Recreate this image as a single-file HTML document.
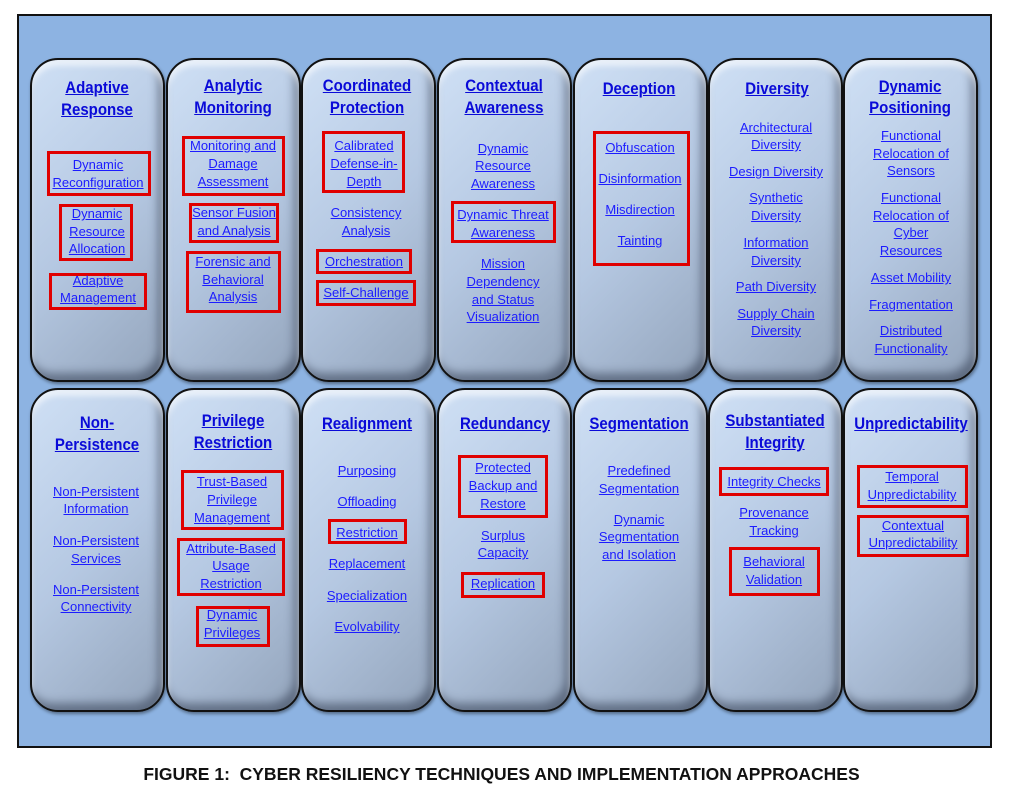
<!DOCTYPE html>
<html><head><meta charset="utf-8"><style>
body{margin:0;width:1023px;height:805px;background:#fff;position:relative;overflow:hidden;font-family:"Liberation Sans",sans-serif}
#f{position:absolute;left:17px;top:14px;width:971px;height:730px;background:#8db3e2;border:2px solid #111;box-sizing:content-box}
.c{position:absolute;width:131px;border:2px solid #111;border-radius:28px;background:linear-gradient(135deg,#cfe0f5 0%,#b5c8e2 50%,#93a4bb 100%);box-shadow:inset 0 6px 6px rgba(255,255,255,.6),inset -5px -7px 9px rgba(40,50,70,.5),1px 2px 3px rgba(0,0,0,.4)}
.t{position:absolute;transform:translateX(-50%);white-space:nowrap;color:#1c1cff;text-decoration:underline;font-size:13px;line-height:16px}
.h{position:absolute;transform:translateX(-50%) scaleX(0.91);white-space:nowrap;color:#0a0ad8;text-decoration:underline;font-size:16.5px;font-weight:bold;line-height:20px}
.r{position:absolute;border:3px solid #e00000;box-sizing:border-box}
#cap{position:absolute;left:0;width:1003px;top:764px;text-align:center;font-weight:bold;font-size:17.5px;color:#111}
</style></head><body>
<div id="f"></div>
<div class="c" style="left:30px;top:58px;height:320px"></div>
<div class="c" style="left:166px;top:58px;height:320px"></div>
<div class="c" style="left:301px;top:58px;height:320px"></div>
<div class="c" style="left:437px;top:58px;height:320px"></div>
<div class="c" style="left:573px;top:58px;height:320px"></div>
<div class="c" style="left:708px;top:58px;height:320px"></div>
<div class="c" style="left:843px;top:58px;height:320px"></div>
<div class="c" style="left:30px;top:388px;height:320px"></div>
<div class="c" style="left:166px;top:388px;height:320px"></div>
<div class="c" style="left:301px;top:388px;height:320px"></div>
<div class="c" style="left:437px;top:388px;height:320px"></div>
<div class="c" style="left:573px;top:388px;height:320px"></div>
<div class="c" style="left:708px;top:388px;height:320px"></div>
<div class="c" style="left:843px;top:388px;height:320px"></div>

<div class="r" style="left:47px;top:151px;width:104px;height:45px"></div>
<div class="r" style="left:59px;top:204px;width:74px;height:57px"></div>
<div class="r" style="left:49px;top:273px;width:98px;height:37px"></div>
<div class="r" style="left:182px;top:136px;width:103px;height:60px"></div>
<div class="r" style="left:189px;top:203px;width:90px;height:40px"></div>
<div class="r" style="left:186px;top:251px;width:95px;height:62px"></div>
<div class="r" style="left:322px;top:131px;width:83px;height:62px"></div>
<div class="r" style="left:316px;top:249px;width:96px;height:25px"></div>
<div class="r" style="left:316px;top:280px;width:100px;height:26px"></div>
<div class="r" style="left:451px;top:201px;width:105px;height:42px"></div>
<div class="r" style="left:593px;top:131px;width:97px;height:135px"></div>
<div class="r" style="left:181px;top:470px;width:103px;height:60px"></div>
<div class="r" style="left:177px;top:538px;width:108px;height:58px"></div>
<div class="r" style="left:196px;top:606px;width:74px;height:41px"></div>
<div class="r" style="left:328px;top:519px;width:79px;height:25px"></div>
<div class="r" style="left:458px;top:455px;width:90px;height:63px"></div>
<div class="r" style="left:461px;top:572px;width:84px;height:26px"></div>
<div class="r" style="left:719px;top:467px;width:110px;height:29px"></div>
<div class="r" style="left:729px;top:547px;width:91px;height:49px"></div>
<div class="r" style="left:857px;top:465px;width:111px;height:43px"></div>
<div class="r" style="left:857px;top:515px;width:112px;height:42px"></div>

<div class="h" style="left:97px;top:78px">Adaptive</div>
<div class="h" style="left:97px;top:100px">Response</div>
<div class="t" style="left:98px;top:157px">Dynamic</div>
<div class="t" style="left:98px;top:175px">Reconfiguration</div>
<div class="t" style="left:97px;top:206px">Dynamic</div>
<div class="t" style="left:97px;top:224px">Resource</div>
<div class="t" style="left:97px;top:241px">Allocation</div>
<div class="t" style="left:98px;top:273px">Adaptive</div>
<div class="t" style="left:98px;top:290px">Management</div>
<div class="h" style="left:233px;top:76px">Analytic</div>
<div class="h" style="left:233px;top:98px">Monitoring</div>
<div class="t" style="left:233px;top:138px">Monitoring and</div>
<div class="t" style="left:233px;top:156px">Damage</div>
<div class="t" style="left:233px;top:174px">Assessment</div>
<div class="t" style="left:234px;top:205px">Sensor Fusion</div>
<div class="t" style="left:234px;top:223px">and Analysis</div>
<div class="t" style="left:233px;top:254px">Forensic and</div>
<div class="t" style="left:233px;top:272px">Behavioral</div>
<div class="t" style="left:233px;top:289px">Analysis</div>
<div class="h" style="left:367px;top:76px">Coordinated</div>
<div class="h" style="left:367px;top:98px">Protection</div>
<div class="t" style="left:364px;top:138px">Calibrated</div>
<div class="t" style="left:364px;top:156px">Defense-in-</div>
<div class="t" style="left:364px;top:174px">Depth</div>
<div class="t" style="left:366px;top:205px">Consistency</div>
<div class="t" style="left:366px;top:223px">Analysis</div>
<div class="t" style="left:364px;top:254px">Orchestration</div>
<div class="t" style="left:366px;top:285px">Self-Challenge</div>
<div class="h" style="left:504px;top:76px">Contextual</div>
<div class="h" style="left:504px;top:98px">Awareness</div>
<div class="t" style="left:503px;top:141px">Dynamic</div>
<div class="t" style="left:503px;top:158px">Resource</div>
<div class="t" style="left:503px;top:176px">Awareness</div>
<div class="t" style="left:503px;top:207px">Dynamic Threat</div>
<div class="t" style="left:503px;top:225px">Awareness</div>
<div class="t" style="left:503px;top:256px">Mission</div>
<div class="t" style="left:503px;top:274px">Dependency</div>
<div class="t" style="left:503px;top:292px">and Status</div>
<div class="t" style="left:503px;top:309px">Visualization</div>
<div class="h" style="left:639px;top:79px">Deception</div>
<div class="t" style="left:640px;top:140px">Obfuscation</div>
<div class="t" style="left:640px;top:171px">Disinformation</div>
<div class="t" style="left:640px;top:202px">Misdirection</div>
<div class="t" style="left:640px;top:233px">Tainting</div>
<div class="h" style="left:777px;top:79px">Diversity</div>
<div class="t" style="left:776px;top:120px">Architectural</div>
<div class="t" style="left:776px;top:137px">Diversity</div>
<div class="t" style="left:776px;top:164px">Design Diversity</div>
<div class="t" style="left:776px;top:190px">Synthetic</div>
<div class="t" style="left:776px;top:208px">Diversity</div>
<div class="t" style="left:776px;top:235px">Information</div>
<div class="t" style="left:776px;top:253px">Diversity</div>
<div class="t" style="left:776px;top:279px">Path Diversity</div>
<div class="t" style="left:776px;top:306px">Supply Chain</div>
<div class="t" style="left:776px;top:323px">Diversity</div>
<div class="h" style="left:910px;top:77px">Dynamic</div>
<div class="h" style="left:910px;top:98px">Positioning</div>
<div class="t" style="left:911px;top:128px">Functional</div>
<div class="t" style="left:911px;top:146px">Relocation of</div>
<div class="t" style="left:911px;top:163px">Sensors</div>
<div class="t" style="left:911px;top:190px">Functional</div>
<div class="t" style="left:911px;top:208px">Relocation of</div>
<div class="t" style="left:911px;top:225px">Cyber</div>
<div class="t" style="left:911px;top:243px">Resources</div>
<div class="t" style="left:911px;top:270px">Asset Mobility</div>
<div class="t" style="left:911px;top:297px">Fragmentation</div>
<div class="t" style="left:911px;top:323px">Distributed</div>
<div class="t" style="left:911px;top:341px">Functionality</div>

<div class="h" style="left:97px;top:413px">Non-</div>
<div class="h" style="left:97px;top:435px">Persistence</div>
<div class="t" style="left:96px;top:484px">Non-Persistent</div>
<div class="t" style="left:96px;top:501px">Information</div>
<div class="t" style="left:96px;top:533px">Non-Persistent</div>
<div class="t" style="left:96px;top:551px">Services</div>
<div class="t" style="left:96px;top:582px">Non-Persistent</div>
<div class="t" style="left:96px;top:599px">Connectivity</div>
<div class="h" style="left:233px;top:411px">Privilege</div>
<div class="h" style="left:233px;top:433px">Restriction</div>
<div class="t" style="left:232px;top:474px">Trust-Based</div>
<div class="t" style="left:232px;top:492px">Privilege</div>
<div class="t" style="left:232px;top:510px">Management</div>
<div class="t" style="left:231px;top:541px">Attribute-Based</div>
<div class="t" style="left:231px;top:558px">Usage</div>
<div class="t" style="left:231px;top:576px">Restriction</div>
<div class="t" style="left:232px;top:607px">Dynamic</div>
<div class="t" style="left:232px;top:625px">Privileges</div>
<div class="h" style="left:367px;top:414px">Realignment</div>
<div class="t" style="left:367px;top:463px">Purposing</div>
<div class="t" style="left:367px;top:494px">Offloading</div>
<div class="t" style="left:367px;top:525px">Restriction</div>
<div class="t" style="left:367px;top:556px">Replacement</div>
<div class="t" style="left:367px;top:588px">Specialization</div>
<div class="t" style="left:367px;top:619px">Evolvability</div>
<div class="h" style="left:505px;top:414px">Redundancy</div>
<div class="t" style="left:503px;top:460px">Protected</div>
<div class="t" style="left:503px;top:478px">Backup and</div>
<div class="t" style="left:503px;top:496px">Restore</div>
<div class="t" style="left:503px;top:528px">Surplus</div>
<div class="t" style="left:503px;top:545px">Capacity</div>
<div class="t" style="left:503px;top:576px">Replication</div>
<div class="h" style="left:639px;top:414px">Segmentation</div>
<div class="t" style="left:639px;top:463px">Predefined</div>
<div class="t" style="left:639px;top:481px">Segmentation</div>
<div class="t" style="left:639px;top:512px">Dynamic</div>
<div class="t" style="left:639px;top:529px">Segmentation</div>
<div class="t" style="left:639px;top:547px">and Isolation</div>
<div class="h" style="left:775px;top:411px">Substantiated</div>
<div class="h" style="left:775px;top:433px">Integrity</div>
<div class="t" style="left:774px;top:474px">Integrity Checks</div>
<div class="t" style="left:774px;top:505px">Provenance</div>
<div class="t" style="left:774px;top:523px">Tracking</div>
<div class="t" style="left:774px;top:554px">Behavioral</div>
<div class="t" style="left:774px;top:572px">Validation</div>
<div class="h" style="left:911px;top:414px">Unpredictability</div>
<div class="t" style="left:912px;top:469px">Temporal</div>
<div class="t" style="left:912px;top:487px">Unpredictability</div>
<div class="t" style="left:913px;top:518px">Contextual</div>
<div class="t" style="left:913px;top:535px">Unpredictability</div>

<div id="cap">FIGURE 1:&nbsp; CYBER RESILIENCY TECHNIQUES AND IMPLEMENTATION APPROACHES</div>
</body></html>
